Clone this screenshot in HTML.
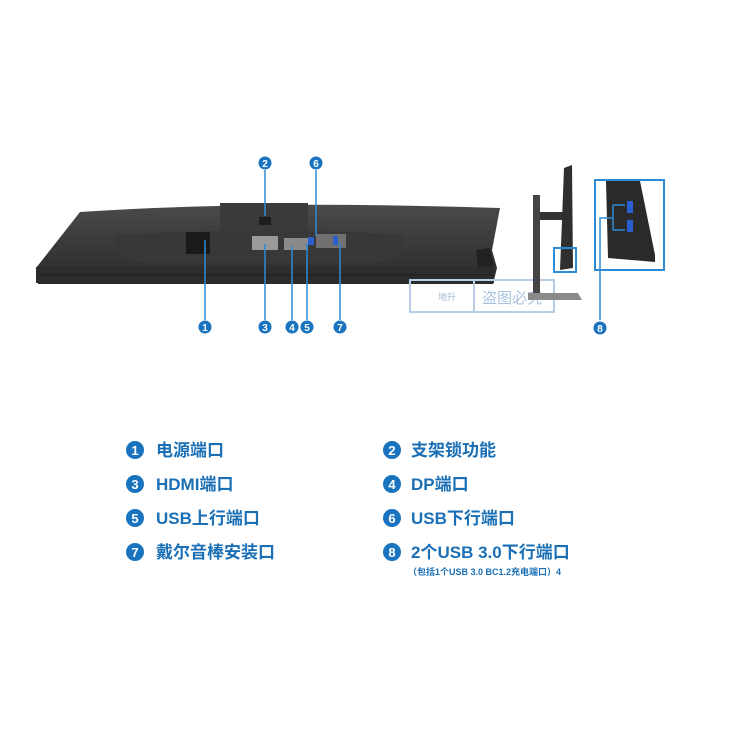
<!DOCTYPE html>
<html><head><meta charset="utf-8"><style>
body{margin:0;background:#fff;width:744px;height:730px;overflow:hidden;font-family:"Liberation Sans","Noto Sans CJK SC",sans-serif}
svg{position:absolute;left:0;top:0}
</style></head><body>
<svg width="744" height="730" viewBox="0 0 744 730">
<defs><linearGradient id="g" x1="0" y1="0" x2="0" y2="1"><stop offset="0" stop-color="#4a4a4a"/><stop offset="1" stop-color="#2a2a2a"/></linearGradient></defs>
<!-- main monitor -->
<path d="M80 212 Q260 200 500 208 L492 250 L497 268 L493 284 L38 284 L36 268 Z" fill="url(#g)"/>
<path d="M114 235 Q270 226 405 235 Q400 258 380 263 L140 263 Q118 255 114 235Z" fill="#383838"/>
<rect x="36" y="267" width="458" height="16" fill="#2c2c2c"/>
<line x1="36" y1="275" x2="494" y2="275" stroke="#1e1e1e"/>
<rect x="220" y="203" width="88" height="28" fill="#3a3a3a"/>
<rect x="259" y="217" width="12" height="8" fill="#1e1e1e"/>
<rect x="186" y="232" width="24" height="22" fill="#1a1a1a"/>
<rect x="252" y="236" width="26" height="14" fill="#9a9a9a"/>
<rect x="284" y="238" width="24" height="12" fill="#8a8a8a"/>
<rect x="308" y="237" width="6" height="8" fill="#2b5fd0"/>
<rect x="316" y="234" width="30" height="14" fill="#707070"/>
<rect x="333" y="236" width="5" height="9" fill="#2b5fd0"/>
<path d="M476 250 L490 248 L494 266 L478 268Z" fill="#222"/>
<!-- watermark -->
<rect x="410" y="280" width="144" height="32" fill="none" stroke="#b5cde6" stroke-width="2"/>
<line x1="474" y1="280" x2="474" y2="312" stroke="#b5cde6" stroke-width="2"/>
<text x="438" y="300" font-size="9" fill="#9fb8d6">地升</text>
<text x="482" y="303" font-size="15" fill="#a9c2df">盗图必究</text>
<!-- side view -->
<rect x="533" y="195" width="7" height="100" fill="#444"/>
<rect x="540" y="212" width="24" height="8" fill="#333"/>
<path d="M564 168 L572 165 L573 268 L560 270 L562 220Z" fill="#2f2f2f"/>
<path d="M528 293 L578 293 L582 300 L528 300Z" fill="#8a8a8a"/>
<rect x="554" y="248" width="22" height="24" fill="none" stroke="#2c8ad6" stroke-width="2"/>
<rect x="595" y="180" width="69" height="90" fill="none" stroke="#2c8ad6" stroke-width="2"/>
<path d="M606 181 L640 181 L655 255 L655 262 L608 258Z" fill="#2a2a2a"/>
<rect x="627" y="201" width="6" height="12" fill="#2b5fd0"/>
<rect x="627" y="220" width="6" height="12" fill="#2b5fd0"/>
<g stroke="#2c8ad6" stroke-width="1.5" fill="none">
<line x1="205" y1="240" x2="205" y2="320"/>
<line x1="265" y1="244" x2="265" y2="320"/>
<line x1="292" y1="246" x2="292" y2="320"/>
<line x1="307" y1="243" x2="307" y2="320"/>
<line x1="340" y1="243" x2="340" y2="320"/>
<line x1="265" y1="170" x2="265" y2="216"/>
<line x1="316" y1="170" x2="316" y2="236"/>
<path d="M600 320 L600 218 L613 218 M613 205 L613 230 M613 205 L625 205 M613 230 L625 230"/>
</g>
<g fill="#1a73bf" font-size="10" font-weight="bold" text-anchor="middle">
<circle cx="205" cy="327" r="6.5"/><circle cx="265" cy="327" r="6.5"/><circle cx="292" cy="327" r="6.5"/><circle cx="307" cy="327" r="6.5"/><circle cx="340" cy="327" r="6.5"/><circle cx="265" cy="163" r="6.5"/><circle cx="316" cy="163" r="6.5"/><circle cx="600" cy="328" r="6.5"/>
<g fill="#fff"><text x="205" y="331">1</text><text x="265" y="331">3</text><text x="292" y="331">4</text><text x="307" y="331">5</text><text x="340" y="331">7</text><text x="265" y="167">2</text><text x="316" y="167">6</text><text x="600" y="332">8</text></g>
</g>
<!-- legend -->
<g fill="#1a73bf">
<circle cx="135" cy="450" r="9"/><circle cx="135" cy="484" r="9"/><circle cx="135" cy="518" r="9"/><circle cx="135" cy="552" r="9"/>
<circle cx="392" cy="450" r="9"/><circle cx="392" cy="484" r="9"/><circle cx="392" cy="518" r="9"/><circle cx="392" cy="552" r="9"/>
</g>
<g fill="#fff" font-size="13" font-weight="bold" text-anchor="middle">
<text x="135" y="455">1</text><text x="135" y="489">3</text><text x="135" y="523">5</text><text x="135" y="557">7</text>
<text x="392" y="455">2</text><text x="392" y="489">4</text><text x="392" y="523">6</text><text x="392" y="557">8</text>
</g>
<g fill="#1a6fb5" font-size="17" font-weight="bold">
<text x="156" y="456">电源端口</text><text x="156" y="490">HDMI端口</text><text x="156" y="524">USB上行端口</text><text x="156" y="558">戴尔音棒安装口</text>
<text x="411" y="456">支架锁功能</text><text x="411" y="490">DP端口</text><text x="411" y="524">USB下行端口</text><text x="411" y="558">2个USB 3.0下行端口</text>
<text x="408" y="575" font-size="9">（包括1个USB 3.0 BC1.2充电端口）4</text>
</g>
</svg>
</body></html>
